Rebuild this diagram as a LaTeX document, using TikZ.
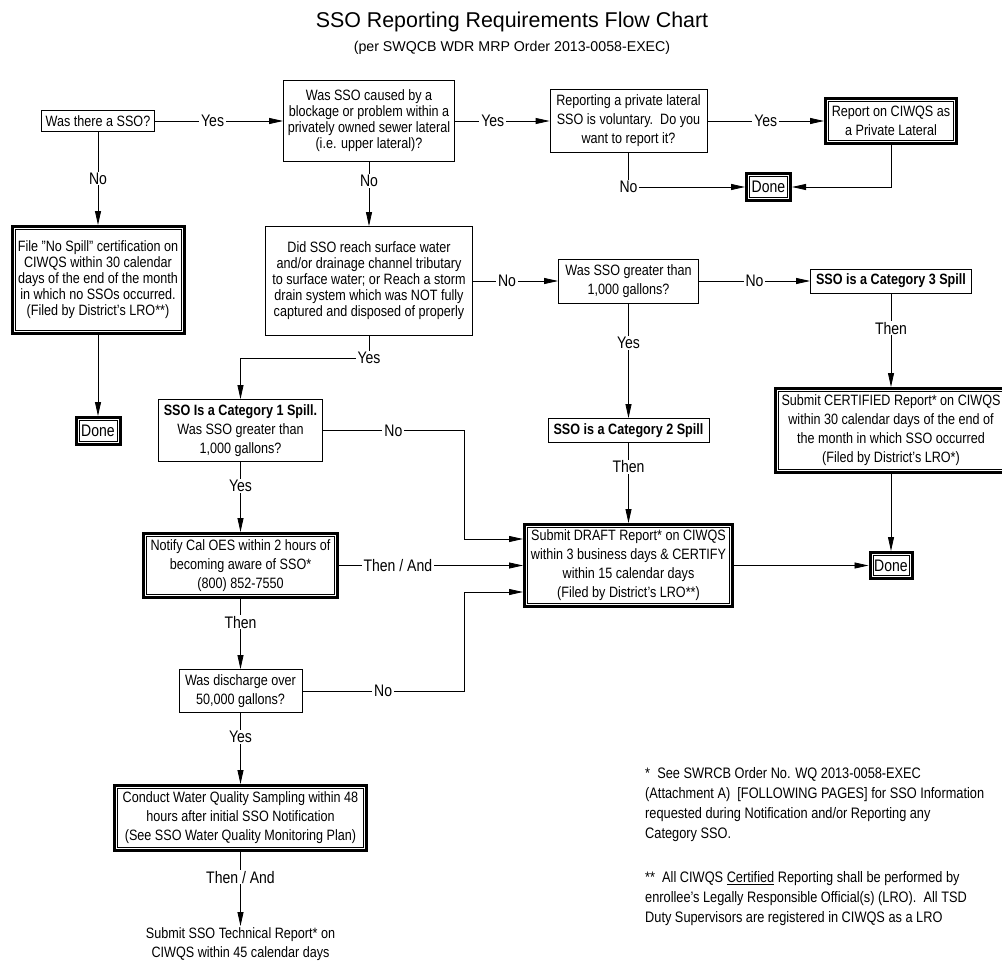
\documentclass[tikz,border=0pt]{standalone}
\usepackage{fontspec}
\setmainfont{Liberation Sans}[FakeStretch=0.84]
\newfontfamily\titlefont{Liberation Sans}
\usetikzlibrary{arrows.meta}

\begin{document}
\begin{tikzpicture}[x=1pt, y=-1pt,
    box/.style={draw, line width=0.8pt, inner sep=1pt, align=center,
      font=\fontsize{15}{19}\selectfont},
    tight/.style={font=\fontsize{15}{16}\selectfont},
    heavy/.style={box, line width=3pt,
      path picture={\draw[line width=0.6pt]
        ([shift={(3.2pt,-3.2pt)}]path picture bounding box.north west) rectangle
        ([shift={(-3.2pt,3.2pt)}]path picture bounding box.south east);}},
    endbox/.style={heavy, font=\fontsize{16.7}{18}\selectfont},
    lbl/.style={fill=white, inner xsep=2pt, inner ysep=1pt,
      font=\fontsize{16.7}{18}\selectfont},
    wire/.style={line width=0.8pt},
    arr/.style={wire, -{Triangle[length=14pt, width=6pt]}}]
  \path[use as bounding box, fill=white] (0,0) rectangle (1002,966);
  % 标题
  \node[font=\titlefont\fontsize{21.4}{24}\selectfont, anchor=base] (title) at (512,28)
    {SSO Reporting Requirements Flow Chart};
  \node[font=\titlefont\fontsize{14.2}{16}\selectfont, anchor=base] (subtitle) at (512,52)
    {(per SWQCB WDR MRP Order 2013-0058-EXEC)};
  % 第一行
  \node[box, minimum width=113pt, minimum height=21pt] (qSSO) at (98,121) {Was there a SSO?};
  \node[box, tight, minimum width=171pt, minimum height=81pt] (qPriv) at (369,121)
    {Was SSO caused by a\\blockage or problem within a\\privately owned sewer lateral\\(i.e. upper lateral)?};
  \node[box, minimum width=157pt, minimum height=63pt] (qVol) at (628.5,121)
    {Reporting a private lateral\\SSO is voluntary.~~Do you\\want to report it?};
  \node[heavy, minimum width=131pt, minimum height=45pt] (repPriv) at (891,121)
    {Report on CIWQS as\\a Private Lateral};
  \node[endbox, minimum width=44pt, minimum height=27pt] (doneA) at (768.5,187) {Done};
  % 左列
  \node[heavy, tight, minimum width=172pt, minimum height=107pt] (fileNo) at (98,280)
    {File "No Spill" certification on\\CIWQS within 30 calendar\\days of the end of the month\\in which no SSOs occurred.\\(Filed by District's LRO**)};
  \node[endbox, minimum width=44pt, minimum height=27pt] (doneB) at (98,431) {Done};
  % 第二行
  \node[box, tight, minimum width=207pt, minimum height=109pt] (qSurf) at (369,281)
    {Did SSO reach surface water\\and/or drainage channel tributary\\to surface water; or Reach a storm\\drain system which was NOT fully\\captured and disposed of properly};
  \node[box, minimum width=140pt, minimum height=44pt] (qGal) at (628.5,281)
    {Was SSO greater than\\1,000 gallons?};
  \node[box, minimum width=161pt, minimum height=24pt] (cat3) at (891,281)
    {\bfseries SSO is a Category 3 Spill};
  % 第三行
  \node[box, minimum width=164pt, minimum height=62pt] (cat1) at (240.5,430.5)
    {\textbf{SSO Is a Category 1 Spill.}\\Was SSO greater than\\1,000 gallons?};
  \node[box, minimum width=161pt, minimum height=24pt] (cat2) at (628.5,430.5)
    {\bfseries SSO is a Category 2 Spill};
  \node[heavy, minimum width=231pt, minimum height=84pt] (cert) at (891,430.5)
    {Submit CERTIFIED Report* on CIWQS\\within 30 calendar days of the end of\\the month in which SSO occurred\\(Filed by District's LRO*)};
  % 第四行
  \node[heavy, minimum width=194pt, minimum height=64pt] (notify) at (240.5,565.5)
    {Notify Cal OES within 2 hours of\\becoming aware of SSO*\\(800) 852-7550};
  \node[heavy, minimum width=208pt, minimum height=82pt] (draft) at (628.5,565.5)
    {Submit DRAFT Report* on CIWQS\\within 3 business days \& CERTIFY\\within 15 calendar days\\(Filed by District's LRO**)};
  \node[endbox, minimum width=42pt, minimum height=26pt] (doneC) at (891,565.5) {Done};
  % 下部
  \node[box, minimum width=123pt, minimum height=43pt] (qDis) at (240.5,691)
    {Was discharge over\\50,000 gallons?};
  \node[heavy, minimum width=252pt, minimum height=65pt] (wqs) at (240.5,818)
    {Conduct Water Quality Sampling within 48\\hours after initial SSO Notification\\(See SSO Water Quality Monitoring Plan)};
  \node[align=center, inner sep=1pt, anchor=north, font=\fontsize{15}{19}\selectfont] (tech)
    at (240.5,926) {Submit SSO Technical Report* on\\CIWQS within 45 calendar days};
  \coordinate (jog) at (464,0);
  % 连线
  \draw[arr] (qSSO) -- node[lbl, pos=0.45] {Yes} (qPriv);
  \draw[arr] (qPriv) -- node[lbl, pos=0.4] {Yes} (qVol);
  \draw[arr] (qVol) -- node[lbl] {Yes} (repPriv);
  \draw[arr] (qVol.south) |- node[lbl] {No} (doneA.west);
  \draw[arr] (repPriv.south) |- (doneA.east);
  \draw[arr] (qSSO) -- node[lbl] {No} (fileNo);
  \draw[arr] (fileNo) -- (doneB);
  \draw[arr] (qPriv) -- node[lbl, pos=0.3] {No} (qSurf);
  \draw[arr] (qSurf) -- node[lbl, pos=0.4] {No} (qGal);
  \draw[arr] (qGal) -- node[lbl] {No} (cat3);
  \draw[arr] (qGal) -- node[lbl, pos=0.345] {Yes} (cat2);
  \draw[arr] (cat3) -- node[lbl, pos=0.37] {Then} (cert);
  \draw[arr] (cert) -- (doneC);
  \draw[arr] (cat2) -- node[lbl, pos=0.3] {Then} (draft);
  \draw[arr] (draft) -- (doneC);
  \draw[arr] (qSurf.south) |- node[lbl] {Yes} ([yshift=41pt]cat1.north) -- (cat1.north);
  \draw[arr] (cat1.east) -- node[lbl] {No} (cat1.east -| jog) |- ([yshift=26.5pt]draft.west);
  \draw[arr] (notify) -- node[lbl, pos=0.32] {Then / And} (draft);
  \draw[arr] (qDis.east) -- node[lbl] {No} (qDis.east -| jog) |- ([yshift=-26.5pt]draft.west);
  \draw[arr] (cat1) -- node[lbl, pos=0.34] {Yes} (notify);
  \draw[arr] (notify) -- node[lbl, pos=0.33] {Then} (qDis);
  \draw[arr] (qDis) -- node[lbl, pos=0.34] {Yes} (wqs);
  \draw[arr] (wqs) -- node[lbl, pos=0.34] {Then / And} (tech);
  % 注释
  \node[align=left, inner sep=0pt, anchor=north west, font=\fontsize{15.2}{20}\selectfont] (noteA)
    at (645,767) {*~~See SWRCB Order No. WQ 2013-0058-EXEC\\(Attachment A)~~[FOLLOWING PAGES] for SSO Information\\requested during Notification and/or Reporting any\\Category SSO.};
  \node[align=left, inner sep=0pt, anchor=north west, font=\fontsize{15.2}{20}\selectfont] (noteB)
    at (645,871) {**~~All CIWQS \underline{Certified} Reporting shall be performed by\\enrollee's Legally Responsible Official(s) (LRO).~~All TSD\\Duty Supervisors are registered in CIWQS as a LRO};
\end{tikzpicture}
\end{document}
